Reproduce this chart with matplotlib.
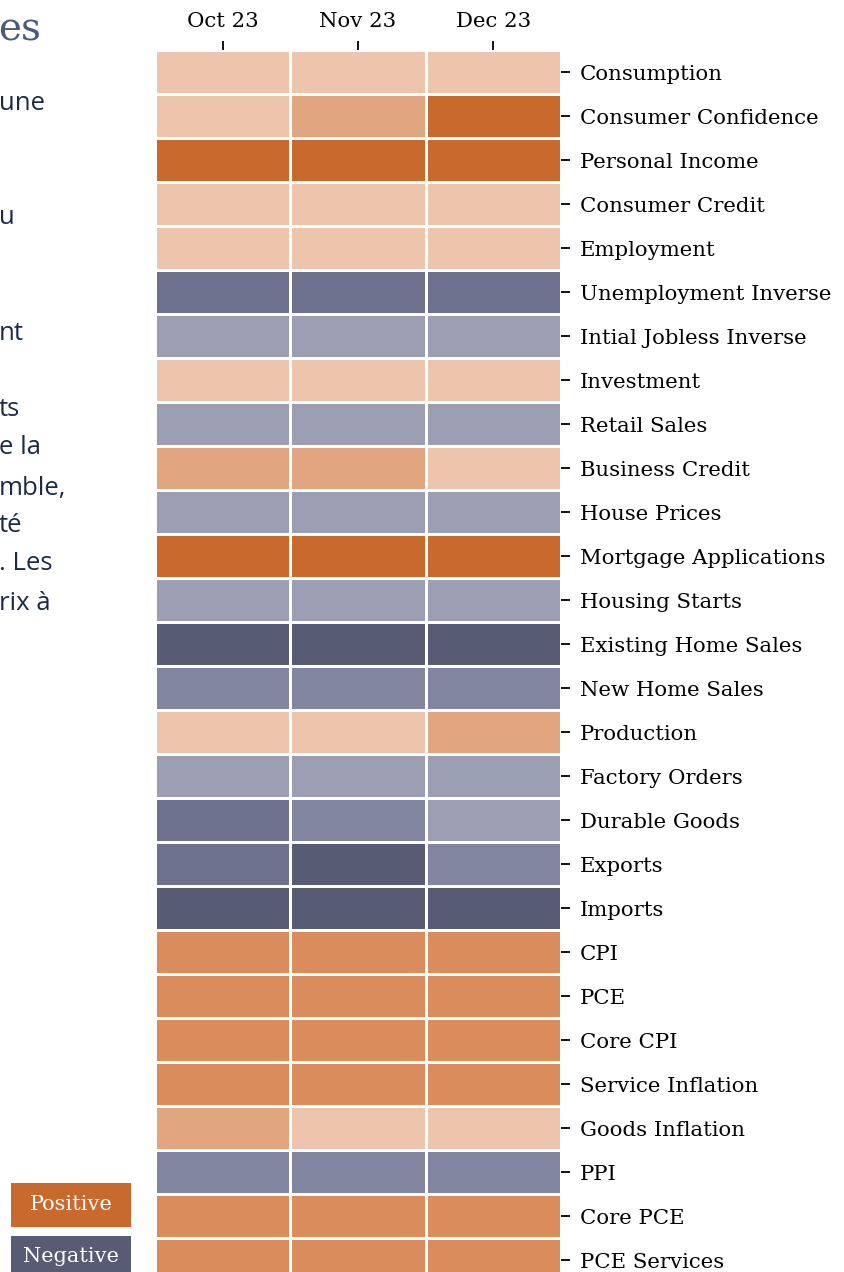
import matplotlib
matplotlib.use("Agg")
import matplotlib.pyplot as plt
import numpy as np
from matplotlib.colors import ListedColormap, BoundaryNorm
from matplotlib.patches import Rectangle

months = ["Oct 23", "Nov 23", "Dec 23"]
indicators = [
    "Consumption", "Consumer Confidence", "Personal Income", "Consumer Credit",
    "Employment", "Unemployment Inverse", "Intial Jobless Inverse", "Investment",
    "Retail Sales", "Business Credit", "House Prices", "Mortgage Applications",
    "Housing Starts", "Existing Home Sales", "New Home Sales", "Production",
    "Factory Orders", "Durable Goods", "Exports", "Imports", "CPI", "PCE",
    "Core CPI", "Service Inflation", "Goods Inflation", "PPI", "Core PCE",
    "PCE Services",
]
# signal level per month: -4 (strong negative) ... +4 (strong positive)
oct_vals = [1, 1, 4, 1, 1, -3, -1, 1, -1, 2, -1, 4, -1, -4, -2, 1, -1, -3, -3, -4, 3, 3, 3, 3, 2, -2, 3, 3]
nov_vals = [1, 2, 4, 1, 1, -3, -1, 1, -1, 2, -1, 4, -1, -4, -2, 1, -1, -2, -4, -4, 3, 3, 3, 3, 1, -2, 3, 3]
dec_vals = [1, 4, 4, 1, 1, -3, -1, 1, -1, 1, -1, 4, -1, -4, -2, 2, -1, -1, -2, -4, 3, 3, 3, 3, 1, -2, 3, 3]

colors = ["#575B73", "#6D718E", "#8185A0", "#9C9EB4",
          "#EDC5AD", "#E1A580", "#DA8C5C", "#C8692E"]
cmap = ListedColormap(colors)
norm = BoundaryNorm([-4.5, -3.5, -2.5, -1.5, 0, 1.5, 2.5, 3.5, 4.5], cmap.N)

data = np.array([oct_vals, nov_vals, dec_vals]).T

W, H = 844, 1272
fig = plt.figure(figsize=(W / 100, H / 100), dpi=100)
fig.patch.set_facecolor("white")

left, right, top, bottom = 155, 561, 50, 1282
ax = fig.add_axes([left / W, 1 - bottom / H, (right - left) / W, (bottom - top) / H])
ax.pcolormesh(np.arange(len(months) + 1), np.arange(len(indicators) + 1), data,
              cmap=cmap, norm=norm, edgecolors="white", linewidth=1.0)
ax.set_xlim(0, len(months))
ax.set_ylim(len(indicators), 0)
for s in ax.spines.values():
    s.set_visible(False)
ax.xaxis.tick_top()
ax.yaxis.tick_right()
ax.set_xticks(np.arange(len(months)) + 0.5)
ax.set_xticklabels(months, family="DejaVu Serif", fontsize=15.3)
ax.set_yticks(np.arange(len(indicators)) + 0.5)
ax.set_yticklabels(indicators, family="DejaVu Serif", fontsize=15.3)
ax.tick_params(axis="both", length=6.5, width=1.3, color="black", pad=7)

# left-side cropped commentary fragments
fig.text(-2 / W, 1 - 30 / H, "es", family="DejaVu Serif", fontsize=28,
         color="#4A5A7A", va="center", ha="left")
fragments = [(103, "une"), (218, "u"), (333, "nt"), (410, "ts"), (448, "e la"),
             (488, "mble,"), (525, "té"), (563, ". Les"), (603, "rix à")]
for y, t in fragments:
    fig.text(-1 / W, 1 - y / H, t, family="Open Sans", fontsize=18.5,
             color="#1C2A48", va="center", ha="left")

# legend boxes
for (y0, y1, col, lab) in [(1183, 1227, "#C8692E", "Positive"),
                           (1236, 1285, "#575B73", "Negative")]:
    fig.patches.append(Rectangle((11 / W, 1 - y1 / H), 120 / W, (y1 - y0) / H,
                                 transform=fig.transFigure, facecolor=col,
                                 edgecolor="none"))
    fig.text(71 / W, 1 - (y0 + 21) / H, lab, family="DejaVu Serif", fontsize=15,
             color="white", ha="center", va="center")

fig.savefig("out.png", dpi=100)
